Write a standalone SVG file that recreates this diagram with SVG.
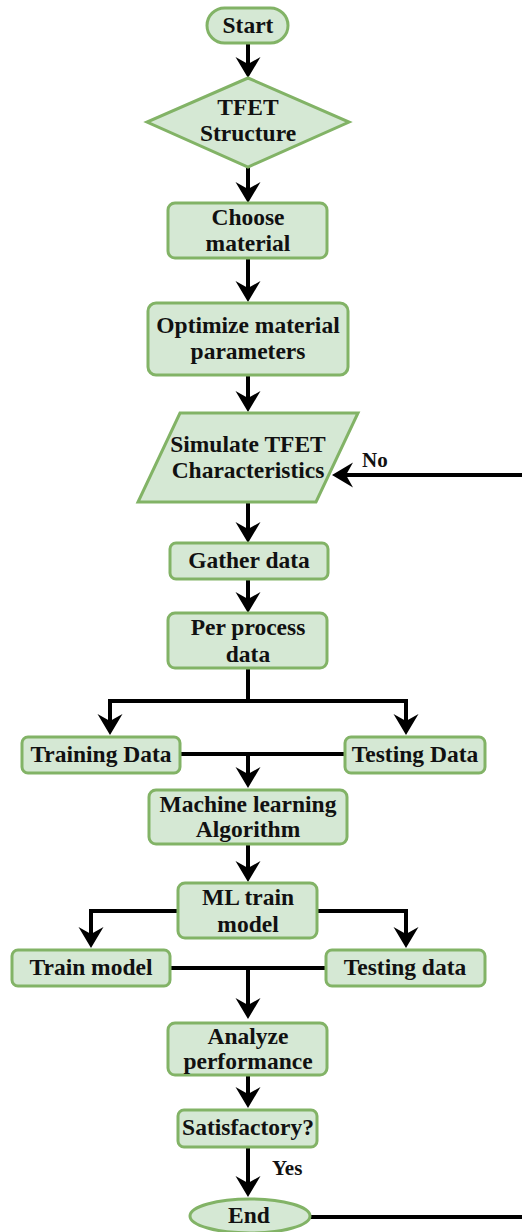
<svg xmlns="http://www.w3.org/2000/svg" width="522" height="1232" viewBox="0 0 522 1232">
  <style>
    .node { fill: #d5e8d4; stroke: #82b366; stroke-width: 3; }
    .label { font-family: 'Liberation Serif', Tinos, 'DejaVu Serif', serif; font-weight: 700; font-size: 23.5px; fill: #111; text-anchor: middle; }
    .edge { fill: none; stroke: #000; stroke-width: 4; }
    .tag { font-family: 'Liberation Serif', Tinos, 'DejaVu Serif', serif; font-weight: 700; font-size: 21px; fill: #111; }
  </style>
  <defs>
    <marker id="arrow" markerUnits="userSpaceOnUse" markerWidth="30" markerHeight="30" refX="0" refY="0" orient="auto" overflow="visible">
      <path d="M10,0 L-11,-12.5 L-4,0 L-11,12.5 Z" fill="#000"/>
    </marker>
  </defs>

  <rect width="522" height="1232" fill="#fff"/>

  <!-- connectors -->
  <g id="connectors" class="edge" marker-end="url(#arrow)">
    <path d="M248,43 V68"/>
    <path d="M248,167 V193"/>
    <path d="M248,258 V292"/>
    <path d="M248,375 V402"/>
    <path d="M248,503 V533"/>
    <path d="M248,580 V603"/>
    <path d="M248,668 V701 H110 V725"/>
    <path d="M248,701 H406 V725"/>
    <path d="M180,754 H345" marker-end="none"/>
    <path d="M248,754 V778"/>
    <path d="M248,844 V872"/>
    <path d="M178,911 H91 V938"/>
    <path d="M317,911 H406 V938"/>
    <path d="M170,968 H326" marker-end="none"/>
    <path d="M248,968 V1009"/>
    <path d="M248,1075 V1098"/>
    <path d="M248,1147 V1187"/>
    <!-- "No" loop: from End back up to the simulation step -->
    <path d="M308,1217 H525 V475 H342"/>
  </g>

  <g id="edge-labels">
    <text class="tag" x="362" y="467">No</text>
    <text class="tag" x="272" y="1175">Yes</text>
  </g>

  <g id="start">
    <rect class="node" x="207" y="8" width="81" height="35" rx="17.5"/>
    <text class="label" x="248" y="33">Start</text>
  </g>

  <g id="tfet-structure">
    <polygon class="node" points="248,78 349,122 248,167 147,122"/>
    <text class="label" x="248" y="115">TFET</text>
    <text class="label" x="248" y="141">Structure</text>
  </g>

  <g id="choose-material">
    <rect class="node" x="168" y="203" width="159" height="55" rx="7"/>
    <text class="label" x="248" y="225">Choose</text>
    <text class="label" x="248" y="251">material</text>
  </g>

  <g id="optimize-parameters">
    <rect class="node" x="148" y="303" width="200" height="72" rx="8"/>
    <text class="label" x="248" y="333">Optimize material</text>
    <text class="label" x="248" y="359">parameters</text>
  </g>

  <g id="simulate-characteristics">
    <polygon class="node" points="180,413 358,413 316,502 138,502"/>
    <text class="label" x="248" y="452">Simulate TFET</text>
    <text class="label" x="248" y="478">Characteristics</text>
  </g>

  <g id="gather-data">
    <rect class="node" x="170" y="543" width="158" height="36" rx="6"/>
    <text class="label" x="249" y="568">Gather data</text>
  </g>

  <g id="preprocess-data">
    <rect class="node" x="168" y="613" width="159" height="55" rx="7"/>
    <text class="label" x="248" y="635">Per process</text>
    <text class="label" x="248" y="662">data</text>
  </g>

  <g id="training-data">
    <rect class="node" x="22" y="737" width="158" height="36" rx="6"/>
    <text class="label" x="101" y="762">Training Data</text>
  </g>

  <g id="testing-data">
    <rect class="node" x="345" y="737" width="140" height="36" rx="6"/>
    <text class="label" x="415" y="762">Testing Data</text>
  </g>

  <g id="ml-algorithm">
    <rect class="node" x="149" y="790" width="198" height="54" rx="7"/>
    <text class="label" x="248" y="812">Machine learning</text>
    <text class="label" x="248" y="837">Algorithm</text>
  </g>

  <g id="ml-train-model">
    <rect class="node" x="178" y="883" width="139" height="55" rx="7"/>
    <text class="label" x="248" y="905">ML train</text>
    <text class="label" x="248" y="932">model</text>
  </g>

  <g id="train-model">
    <rect class="node" x="12" y="950" width="158" height="36" rx="6"/>
    <text class="label" x="91" y="975">Train model</text>
  </g>

  <g id="testing-data-2">
    <rect class="node" x="326" y="950" width="159" height="36" rx="6"/>
    <text class="label" x="405" y="975">Testing data</text>
  </g>

  <g id="analyze-performance">
    <rect class="node" x="168" y="1023" width="159" height="52" rx="7"/>
    <text class="label" x="248" y="1044">Analyze</text>
    <text class="label" x="248" y="1069">performance</text>
  </g>

  <g id="satisfactory">
    <rect class="node" x="178" y="1110" width="139" height="37" rx="6"/>
    <text class="label" x="248" y="1135">Satisfactory?</text>
  </g>

  <g id="end">
    <ellipse class="node" cx="250" cy="1216" rx="60" ry="17"/>
    <text class="label" x="249" y="1223">End</text>
  </g>
</svg>
